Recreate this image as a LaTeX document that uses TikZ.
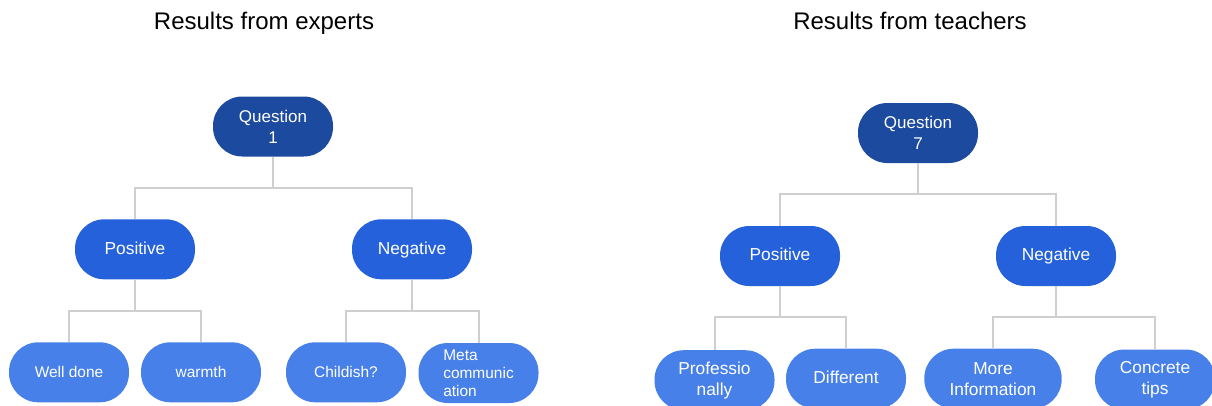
\documentclass[tikz,border=0pt]{standalone}
\usepackage{fontspec}
\setmainfont{Liberation Sans}
\definecolor{qblue}{HTML}{1C4A9E}
\definecolor{mblue}{HTML}{2461DB}
\definecolor{lblue}{HTML}{4680E8}
\definecolor{linegray}{HTML}{CFCFCF}
\begin{document}
\begin{tikzpicture}[x=0.75pt,y=-0.75pt,
  pill/.style={rectangle, rounded corners=22pt, minimum width=90pt,
    minimum height=45pt, inner sep=0pt, text=white, align=center},
  oneline/.style={text height=0.72em, text depth=0pt},
  qnode/.style={pill, fill=qblue, font=\fontsize{12.75}{15.5}\selectfont},
  mnode/.style={pill, oneline, fill=mblue, font=\fontsize{13}{15.5}\selectfont},
  lnode/.style={pill, fill=lblue, font=\fontsize{11.6}{13.5}\selectfont},
  rnode/.style={pill, fill=lblue, font=\fontsize{13}{15.75}\selectfont},
  conn/.style={draw=linegray, line width=1.5pt},
  title/.style={anchor=base, font=\fontsize{18}{21}\selectfont}]
\useasboundingbox (0,0) rectangle (1212,405);
\clip (0,0) rectangle (1212,405);

% ---- experts tree ----
\node[title] (t1) at (264,29) {Results from experts};
\node[qnode] (q1) at (273,126.5) {Question\\1};
\node[mnode] (lp) at (135,249.3) {Positive};
\node[mnode] (ln) at (412,249.3) {Negative};
\node[lnode, oneline] (l1) at (69,372.3) {Well done};
\node[lnode, oneline] (l2) at (201,372.3) {warmth};
\node[lnode, oneline] (l3) at (346,372.3) {Childish?};
\node[lnode, align=left] (l4) at (478.5,373) {Meta\\communic\\ation};
\coordinate (lb1) at (0,187.7);
\coordinate (lb2) at (0,310.7);

\draw[conn] (q1.south) -- (q1.south |- lb1) -| (lp.north);
\draw[conn] (q1.south |- lb1) -| (ln.north);
\draw[conn] (lp.south) -- (lp.south |- lb2) -| (l1.north);
\draw[conn] (lp.south |- lb2) -| (l2.north);
\draw[conn] (ln.south) -- (ln.south |- lb2) -| (l3.north);
\draw[conn] (ln.south |- lb2) -| (l4.north);

% ---- teachers tree ----
\node[title] (t2) at (910,29) {Results from teachers};
\node[qnode] (q7) at (918,133) {Question\\7};
\node[mnode] (rp) at (780,256) {Positive};
\node[mnode] (rn) at (1056,256) {Negative};
\node[rnode] (r1) at (714.5,380.2) {Professio\\nally};
\node[rnode, oneline] (r2) at (846,378.7) {Different};
\node[rnode, minimum width=103pt] (r3) at (993,378.7) {More\\Information};
\node[rnode] (r4) at (1155,379.5) {Concrete\\tips};
\coordinate (rb1) at (0,194.3);
\coordinate (rb2) at (0,317.3);

\draw[conn] (q7.south) -- (q7.south |- rb1) -| (rp.north);
\draw[conn] (q7.south |- rb1) -| (rn.north);
\draw[conn] (rp.south) -- (rp.south |- rb2) -| (r1.north);
\draw[conn] (rp.south |- rb2) -| (r2.north);
\draw[conn] (rn.south) -- (rn.south |- rb2) -| (r3.north);
\draw[conn] (rn.south |- rb2) -| (r4.north);
\end{tikzpicture}
\end{document}
